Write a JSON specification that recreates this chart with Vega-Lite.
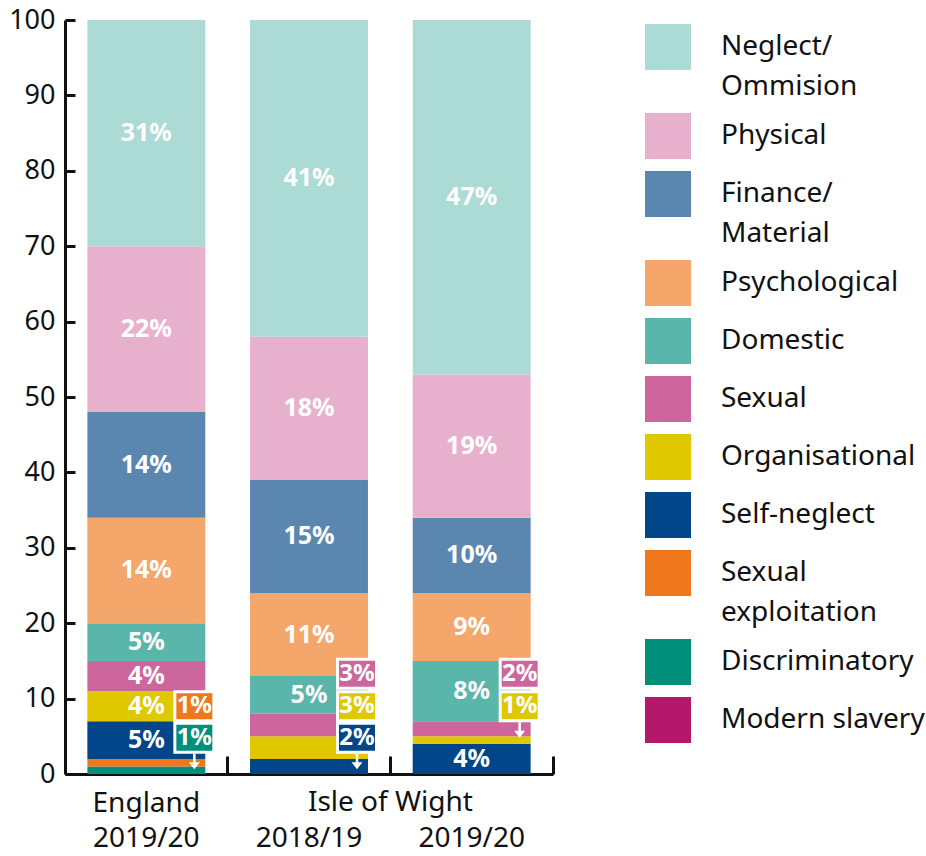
{
  "$schema": "https://vega.github.io/schema/vega-lite/v6.json",
  "width": 488,
  "height": 754,
  "autosize": {"type": "none"},
  "padding": {"left": 65, "top": 20, "right": 373, "bottom": 82},
  "background": "white",
  "config": {"view": {"stroke": null}, "font": "Noto Sans"},
  "datasets": {
    "segs": [
      {"bar": "England 2019/20", "category": "Discriminatory", "value": 1, "o": 1, "lab": "1%", "inside": false},
      {"bar": "England 2019/20", "category": "Sexual exploitation", "value": 1, "o": 2, "lab": "1%", "inside": false},
      {"bar": "England 2019/20", "category": "Self-neglect", "value": 5, "o": 3, "lab": "5%", "inside": true},
      {"bar": "England 2019/20", "category": "Organisational", "value": 4, "o": 4, "lab": "4%", "inside": true},
      {"bar": "England 2019/20", "category": "Sexual", "value": 4, "o": 5, "lab": "4%", "inside": true},
      {"bar": "England 2019/20", "category": "Domestic", "value": 5, "o": 6, "lab": "5%", "inside": true},
      {"bar": "England 2019/20", "category": "Psychological", "value": 14, "o": 7, "lab": "14%", "inside": true},
      {"bar": "England 2019/20", "category": "Finance/Material", "value": 14, "o": 8, "lab": "14%", "inside": true},
      {"bar": "England 2019/20", "category": "Physical", "value": 22, "o": 9, "lab": "22%", "inside": true},
      {"bar": "England 2019/20", "category": "Neglect/Ommision", "value": 30, "o": 10, "lab": "31%", "inside": true},
      {"bar": "Isle of Wight 2018/19", "category": "Self-neglect", "value": 2, "o": 3, "lab": "2%", "inside": false},
      {"bar": "Isle of Wight 2018/19", "category": "Organisational", "value": 3, "o": 4, "lab": "3%", "inside": false},
      {"bar": "Isle of Wight 2018/19", "category": "Sexual", "value": 3, "o": 5, "lab": "3%", "inside": false},
      {"bar": "Isle of Wight 2018/19", "category": "Domestic", "value": 5, "o": 6, "lab": "5%", "inside": true},
      {"bar": "Isle of Wight 2018/19", "category": "Psychological", "value": 11, "o": 7, "lab": "11%", "inside": true},
      {"bar": "Isle of Wight 2018/19", "category": "Finance/Material", "value": 15, "o": 8, "lab": "15%", "inside": true},
      {"bar": "Isle of Wight 2018/19", "category": "Physical", "value": 19, "o": 9, "lab": "18%", "inside": true},
      {"bar": "Isle of Wight 2018/19", "category": "Neglect/Ommision", "value": 42, "o": 10, "lab": "41%", "inside": true},
      {"bar": "Isle of Wight 2019/20", "category": "Self-neglect", "value": 4, "o": 3, "lab": "4%", "inside": true},
      {"bar": "Isle of Wight 2019/20", "category": "Organisational", "value": 1, "o": 4, "lab": "1%", "inside": false},
      {"bar": "Isle of Wight 2019/20", "category": "Sexual", "value": 2, "o": 5, "lab": "2%", "inside": false},
      {"bar": "Isle of Wight 2019/20", "category": "Domestic", "value": 8, "o": 6, "lab": "8%", "inside": true},
      {"bar": "Isle of Wight 2019/20", "category": "Psychological", "value": 9, "o": 7, "lab": "9%", "inside": true},
      {"bar": "Isle of Wight 2019/20", "category": "Finance/Material", "value": 10, "o": 8, "lab": "10%", "inside": true},
      {"bar": "Isle of Wight 2019/20", "category": "Physical", "value": 19, "o": 9, "lab": "19%", "inside": true},
      {"bar": "Isle of Wight 2019/20", "category": "Neglect/Ommision", "value": 47, "o": 10, "lab": "47%", "inside": true}
    ],
    "callouts": [
      {"bar": "England 2019/20", "category": "Sexual exploitation", "lab": "1%", "at": 9.0, "arrow": false},
      {"bar": "England 2019/20", "category": "Discriminatory", "lab": "1%", "at": 4.8, "arrow": true},
      {"bar": "Isle of Wight 2018/19", "category": "Sexual", "lab": "3%", "at": 13.3, "arrow": false},
      {"bar": "Isle of Wight 2018/19", "category": "Organisational", "lab": "3%", "at": 9.0, "arrow": false},
      {"bar": "Isle of Wight 2018/19", "category": "Self-neglect", "lab": "2%", "at": 4.8, "arrow": true},
      {"bar": "Isle of Wight 2019/20", "category": "Sexual", "lab": "2%", "at": 13.3, "arrow": false},
      {"bar": "Isle of Wight 2019/20", "category": "Organisational", "lab": "1%", "at": 9.0, "arrow": true}
    ],
    "areaname": [
      {"bar": "Isle of Wight 2018/19", "name": "Isle of Wight"}
    ]
  },
  "layer": [
    {
      "data": {"name": "segs"},
      "transform": [
        {"stack": "value", "groupby": ["bar"], "sort": [{"field": "o", "order": "ascending"}], "as": ["v0", "v1"]}
      ],
      "mark": {"type": "bar"},
      "encoding": {
        "x": {
          "field": "bar", "type": "nominal", "sort": null,
          "scale": {"paddingInner": 0.275, "paddingOuter": 0.1375},
          "axis": {
            "title": null,
            "labelAngle": 0,
            "labelFontSize": 28,
            "labelColor": "#111111",
            "labelLineHeight": 35,
            "labelPadding": 33,
            "labelExpr": "datum.value == 'England 2019/20' ? ['England', '2019/20'] : ['', slice(datum.value, -7)]",
            "bandPosition": 1.19,
            "tickSize": -18,
            "tickWidth": 3,
            "tickColor": "#111111",
            "domainColor": "#111111",
            "domainWidth": 3
          }
        },
        "y": {
          "field": "v0", "type": "quantitative",
          "scale": {"domain": [0, 100], "nice": false},
          "axis": {
            "title": null,
            "values": [0, 10, 20, 30, 40, 50, 60, 70, 80, 90, 100],
            "grid": false,
            "labelFontSize": 27,
            "labelColor": "#111111",
            "labelPadding": 20,
            "tickSize": -10,
            "tickWidth": 3,
            "tickColor": "#111111",
            "domainColor": "#111111",
            "domainWidth": 3
          }
        },
        "y2": {"field": "v1"},
        "color": {
          "field": "category", "type": "nominal",
          "scale": {
            "domain": ["Neglect/Ommision", "Physical", "Finance/Material", "Psychological", "Domestic", "Sexual", "Organisational", "Self-neglect", "Sexual exploitation", "Discriminatory", "Modern slavery"],
            "range": ["#acdad5", "#e7b1ce", "#5a86b0", "#f4a66b", "#5ab5aa", "#cd669c", "#dfc800", "#004688", "#ee781b", "#008f7a", "#b3186b"]
          },
          "legend": {
            "title": null,
            "orient": "none",
            "legendX": 580,
            "legendY": 4,
            "padding": 0,
            "columns": 1,
            "symbolType": "square",
            "symbolSize": 2116,
            "symbolStrokeWidth": 0,
            "symbolOpacity": 1,
            "labelFontSize": 28,
            "labelColor": "#111111",
            "labelOffset": 30,
            "labelLimit": 400,
            "labelBaseline": "top",
            "rowPadding": 12,
            "labelExpr": "datum.label == 'Neglect/Ommision' ? ['Neglect/', 'Ommision'] : datum.label == 'Finance/Material' ? ['Finance/', 'Material'] : datum.label == 'Sexual exploitation' ? ['Sexual', 'exploitation'] : datum.label",
            "encode": {
              "labels": {"update": {"lineHeight": {"value": 40}, "dy": {"value": -14}}}
            }
          }
        }
      }
    },
    {
      "data": {"name": "segs"},
      "transform": [
        {"stack": "value", "groupby": ["bar"], "sort": [{"field": "o", "order": "ascending"}], "as": ["v0", "v1"]},
        {"filter": "datum.inside"},
        {"calculate": "(datum.v0 + datum.v1) / 2", "as": "mid"}
      ],
      "mark": {"type": "text", "color": "white", "fontWeight": "bold", "fontSize": 25, "baseline": "middle"},
      "encoding": {
        "x": {"field": "bar", "type": "nominal", "sort": null},
        "y": {"field": "mid", "type": "quantitative"},
        "text": {"field": "lab"}
      }
    },
    {
      "data": {"name": "callouts"},
      "mark": {"type": "point", "shape": "M -19.5 -14.5 L 19.5 -14.5 L 19.5 14.5 L -19.5 14.5 Z", "size": 4, "filled": true, "opacity": 1, "stroke": "white", "strokeWidth": 3, "xOffset": 48},
      "encoding": {
        "x": {"field": "bar", "type": "nominal", "sort": null},
        "y": {"field": "at", "type": "quantitative"},
        "color": {"field": "category", "type": "nominal"}
      }
    },
    {
      "data": {"name": "callouts"},
      "mark": {"type": "text", "color": "white", "fontWeight": "bold", "fontSize": 24, "baseline": "middle", "xOffset": 48},
      "encoding": {
        "x": {"field": "bar", "type": "nominal", "sort": null},
        "y": {"field": "at", "type": "quantitative"},
        "text": {"field": "lab"}
      }
    },
    {
      "data": {"name": "callouts"},
      "transform": [{"filter": "datum.arrow"}],
      "mark": {"type": "point", "shape": "M -1.3 16 L 1.3 16 L 1.3 24.5 L 5.5 24.5 L 0 31.5 L -5.5 24.5 L -1.3 24.5 Z", "size": 4, "filled": true, "opacity": 1, "color": "white", "strokeWidth": 0, "xOffset": 48},
      "encoding": {
        "x": {"field": "bar", "type": "nominal", "sort": null},
        "y": {"field": "at", "type": "quantitative"}
      }
    },
    {
      "data": {"name": "areaname"},
      "mark": {"type": "text", "fontSize": 28, "color": "#111111", "baseline": "middle", "dy": 29},
      "encoding": {
        "x": {"field": "bar", "type": "nominal", "sort": null, "bandPosition": 1.19},
        "y": {"datum": 0, "type": "quantitative"},
        "text": {"field": "name"}
      }
    }
  ]
}
